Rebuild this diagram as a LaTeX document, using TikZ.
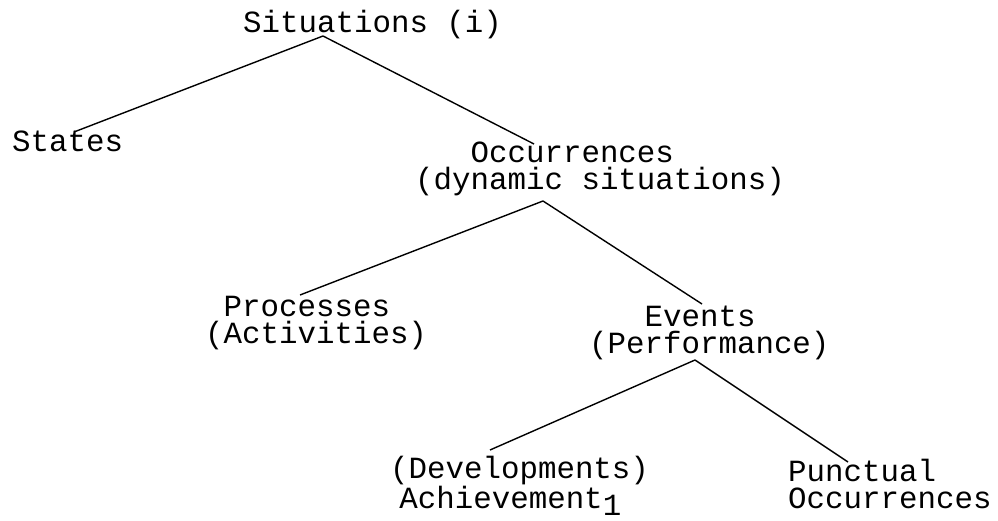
\documentclass[tikz,border=0pt]{standalone}
\usepackage{fontspec}
\newfontfamily\typewfont{Liberation Mono}

\begin{document}
\begin{tikzpicture}[x=1pt,y=-1pt,
    txt/.style={anchor=base west, inner sep=0pt, align=left,
        font=\typewfont\fontsize{30.8}{27}\selectfont},
    branch/.style={line width=1.4pt}]
                    \useasboundingbox (0,0) rectangle (998,521);

                    % base of a two-line node is its last line
                    \node[txt] (sit) at (243,33) {Situations (i)};
                    \node[txt] (sta) at (12,152) {States};
                    \node[txt] (occ) at (415,190) {\hspace*{1.8em}Occurrences\\(dynamic situations)};
                    \node[txt] (pro) at (205,343) {\hspace*{0.6em}Processes\\(Activities)};
                    \node[txt] (eve) at (589,353) {\hspace*{1.8em}Events\\(Performance)};
                    \node[txt] (dev) at (390,508) {(Developments)\\\hspace*{0.3em}Achievement\raisebox{-7pt}{1}};
                    \node[txt] (pun) at (788,508) {Punctual\\Occurrences};

                    % where the branches meet the words
                    \coordinate (sit-foot) at (323,36);
                    \coordinate (sta-top) at (74,132);
                    \coordinate (occ-top) at (534,144);
                    \coordinate (occ-foot) at (543,201);
                    \coordinate (pro-top) at (300,295);
                    \coordinate (eve-top) at (702,304);
                    \coordinate (eve-foot) at (695,360);
                    \coordinate (dev-top) at (490,450);
                    \coordinate (pun-top) at (848,462);

                    \draw[branch] (sit-foot) -- (sta-top);
                    \draw[branch] (sit-foot) -- (occ-top);
                    \draw[branch] (occ-foot) -- (pro-top);
                    \draw[branch] (occ-foot) -- (eve-top);
                    \draw[branch] (eve-foot) -- (dev-top);
                    \draw[branch] (eve-foot) -- (pun-top);
                \end{tikzpicture}
\end{document}
